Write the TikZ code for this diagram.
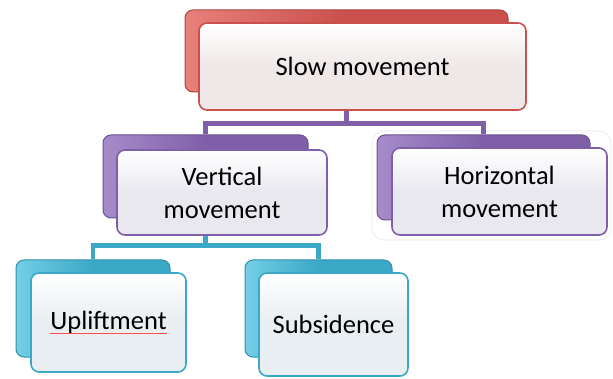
\documentclass[tikz,border=0pt]{standalone}
\usepackage{fontspec}
\setmainfont{Carlito}
\usetikzlibrary{calc}
\definecolor{redc}{HTML}{C9504C}
\definecolor{redl}{HTML}{E8807B}
\definecolor{redf}{HTML}{EFE8E8}
\definecolor{purc}{HTML}{7F60A8}
\definecolor{purl}{HTML}{A68CCB}
\definecolor{purf}{HTML}{EAE8EF}
\definecolor{cyac}{HTML}{3AA8C6}
\definecolor{cyal}{HTML}{74CFE6}
\definecolor{cyaf}{HTML}{E8EEF1}
\tikzset{
  backbox/.style n args={3}{rounded corners=8pt, draw=#1!85!black, line width=1pt,
     left color=#2, right color=#1, middle color=#1, inner sep=0pt, minimum width=#3},
  frontbox/.style n args={2}{rounded corners=8pt, draw=#1, line width=1.6pt,
     top color=white, bottom color=#2, middle color=#2, inner sep=0pt,
     font=\fontsize{26.5}{33}\selectfont, align=center, text=black},
  purline/.style={draw=purc, line width=4.5pt},
  cyaline/.style={draw=cyac, line width=4.5pt},
}
\begin{document}
\begin{tikzpicture}[x=1pt,y=-1pt]
\useasboundingbox (0,0) rectangle (613,379);
% glow around horizontal
\draw[gray!20, line width=0.6pt, rounded corners=12pt] (372,131) rectangle (611,240);
% back boxes
\node[backbox={redc}{redl}{323pt}, minimum height=82pt] (sb) at (346.5,51) {};
\node[backbox={purc}{purl}{205pt}, minimum height=83pt] (vb) at (205.5,176.5) {};
\node[backbox={purc}{purl}{213pt}, minimum height=85pt] (hb) at (483.5,177.5) {};
\node[backbox={cyac}{cyal}{154pt}, minimum height=97pt] (ub) at (93,308.5) {};
\node[backbox={cyac}{cyal}{147pt}, minimum height=97pt] (subb) at (318.5,308.5) {};
% connectors
\draw[purline] (sb.south) -- ++(0,31) coordinate (pj) -| (vb.north);
\draw[purline] (pj) -| (hb.north);
\draw[cyaline] (vb.south) -- ++(0,27) coordinate (cj) -| (ub.north);
\draw[cyaline] (cj) -| (subb.north);
% front boxes
\node[frontbox={redc}{redf}, minimum width=327pt, minimum height=87pt] (s) at (362.5,66.5) {Slow movement};
\node[frontbox={purc}{purf}, minimum width=210pt, minimum height=85pt] (v) at (222,192.5) {Vertical\\movement};
\node[frontbox={purc}{purf}, minimum width=215pt, minimum height=87pt] (h) at (499.5,191.5) {Horizontal\\movement};
\node[frontbox={cyac}{cyaf}, minimum width=155pt, minimum height=99pt] (u) at (108.5,322.5) {Upliftment};
\node[frontbox={cyac}{cyaf}, minimum width=149pt, minimum height=103pt] (sub) at (333.5,324.5) {Subsidence};
\draw[red!70, line width=0.8pt] ($(u.center)+(-58.5,11)$) -- ++(117,0);
\end{tikzpicture}
\end{document}
